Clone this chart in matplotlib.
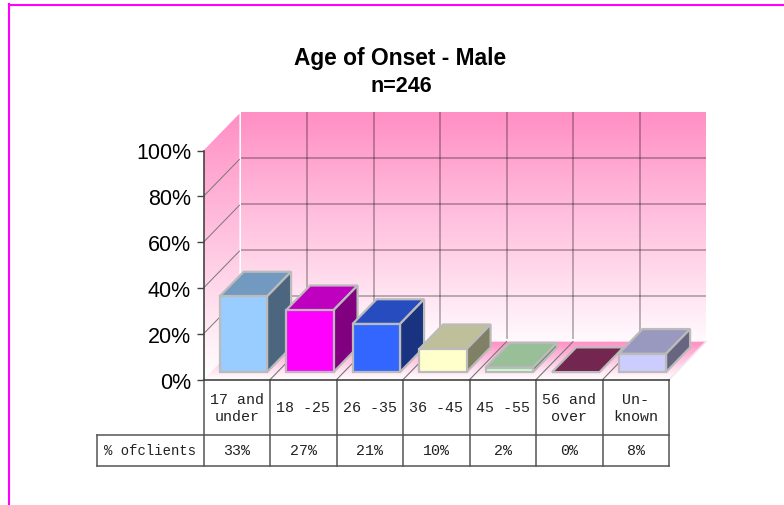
import numpy as np
from matplotlib import pyplot as plt
from matplotlib.colors import LinearSegmentedColormap
from matplotlib.lines import Line2D
from matplotlib.patches import Polygon

categories = ['17 and\nunder', '18 -25', '26 -35', '36 -45', '45 -55', '56 and\nover', 'Un-\nknown']
percent_clients = [33, 27, 21, 10, 2, 0, 8]
table_values = ['33%', '27%', '21%', '10%', '2%', '0%', '8%']
front_colors = ['#99CCFF', '#FF00FF', '#3366FF', '#FFFFCC', '#CCFFCC', '#993366', '#CCCCFF']
top_colors = ['#7299BF', '#BF00BF', '#264CBF', '#BFBF99', '#99BF99', '#732650', '#9999BF']
side_colors = ['#4C6680', '#800080', '#193380', '#808066', '#668066', '#4C1933', '#666680']
yticks = [0, 20, 40, 60, 80, 100]

W, H = 784, 506
# depth of the floor in axis units
DX = 37 / 66.5
DY = 38 / 2.29
PINK = '#FF8FC4'


def proj(x, y, d):
    return (x + d * DX, y + d * DY)


def gradient(ax, poly, y0, y1, top, bottom):
    cmap = LinearSegmentedColormap.from_list('g', [bottom, top])
    xs = [p[0] for p in poly]
    img = ax.imshow(np.linspace(1, 0, 256).reshape(-1, 1), cmap=cmap, vmin=0, vmax=1,
                    extent=[min(xs), max(xs), y0, y1], aspect='auto', zorder=1,
                    interpolation='bilinear')
    img.set_clip_path(Polygon(poly, transform=ax.transData))
    # the walls stick out above and right of the axes box
    img.set_clip_box(ax.figure.bbox)


def main():
    plt.rcParams['font.family'] = ['Liberation Sans', 'DejaVu Sans']
    fig = plt.figure(figsize=(W / 100, H / 100), dpi=100)
    ax = fig.add_axes([203.5 / W, 1 - 380.7 / H, 465.5 / W, 229.2 / H])
    n = len(categories)

    # walls and floor
    back = [proj(0, 0, 1), proj(n, 0, 1), proj(n, 100, 1), proj(0, 100, 1)]
    left = [proj(0, 0, 0), proj(0, 0, .97), proj(0, 100, .97), proj(0, 100, 0)]
    floor = [proj(0, 0, 0), proj(n, 0, 0), proj(n, 0, 1), proj(0, 0, 1)]
    gradient(ax, back, 0 + DY, 100 + DY, PINK, '#FFFAFD')
    gradient(ax, left, 0, 100 + DY, PINK, '#FFFFFF')
    gradient(ax, floor, 0, DY, PINK, '#FFFFFF')
    ax.plot(*zip(proj(n, 0, 0), proj(n, 0, 1)), color='#F5E6EE', lw=1.2, zorder=1.5, clip_on=False)

    # grid
    grid = dict(color='#000000', alpha=.27, lw=1.4, zorder=2, clip_on=False, solid_capstyle='butt')
    for v in yticks[1:-1]:
        ax.plot(*zip(proj(0, v, 1), proj(n, v, 1)), **grid)
        ax.plot(*zip(proj(0, v, 0), proj(0, v, .97)), color='#777777', lw=.7, zorder=2, clip_on=False)
    for i in range(1, n):
        ax.plot(*zip(proj(i, 1, 1), proj(i, 100, 1)), **grid)
        ax.plot(*zip(proj(i, 0, 0), proj(i, 0, 1)), color='#777777', lw=.8, zorder=2, clip_on=False)

    # bars
    edge = dict(ec='#BBBBBB', lw=1.6, joinstyle='miter', clip_on=False)
    bar_w = .714
    d0, d1 = .2, .85
    for i, val in enumerate(percent_clients):
        x0 = i + .13
        x1 = x0 + bar_w
        z = 3 + i * .1
        ax.add_patch(Polygon([proj(x0, val, d0), proj(x1, val, d0), proj(x1, val, d1), proj(x0, val, d1)],
                             fc=top_colors[i], zorder=z, **edge))
        if val > 0:
            ax.add_patch(Polygon([proj(x1, 0, d0), proj(x1, 0, d1), proj(x1, val, d1), proj(x1, val, d0)],
                                 fc=side_colors[i], zorder=z, **edge))
            ax.add_patch(Polygon([proj(x0, 0, d0), proj(x1, 0, d0), proj(x1, val, d0), proj(x0, val, d0)],
                                 fc=front_colors[i], zorder=z, **edge))

    ax.set_xlim(0, n)
    ax.set_ylim(0, 100)
    ax.patch.set_visible(False)
    for s in ['top', 'right']:
        ax.spines[s].set_visible(False)
    for s in ['left', 'bottom']:
        ax.spines[s].set_color('#444444')
        ax.spines[s].set_linewidth(1.2)
        ax.spines[s].set_zorder(6)
    ax.set_xticks([])
    ax.set_yticks(yticks)
    ax.set_yticklabels([f'{v}%' for v in yticks], fontsize=15.5)
    ax.tick_params(axis='y', length=5, width=1, color='#444444', pad=4)

    # data table below the axis
    row1, row2 = -24.1, -37.6
    label_x = -(203.5 - 97) / 66.5
    tbl = dict(color='#555555', lw=1.1, clip_on=False, zorder=6, solid_capstyle='projecting')
    for i in range(n + 1):
        ax.plot([i, i], [0, row2], **tbl)
    ax.plot([label_x, n], [row1, row1], **tbl)
    ax.plot([label_x, n], [row2, row2], **tbl)
    ax.plot([label_x, label_x], [row1, row2], **tbl)
    mono = dict(family='Liberation Mono', fontsize=10.8, ha='center', va='center', color='#222222',
                linespacing=1.3)
    for i, lab in enumerate(categories):
        ax.text(i + .5, row1 / 2, lab, **mono)
        ax.text(i + .5, (row1 + row2) / 2, table_values[i], **mono)
    ax.text((label_x + 0) / 2, (row1 + row2) / 2, '% ofclients', **{**mono, 'fontsize': 10})

    fig.text(400 / W, 1 - 58 / H, 'Age of Onset - Male', fontsize=16.4, fontweight='bold', ha='center', va='center')
    fig.text(401 / W, 1 - 87 / H, 'n=246', fontsize=15.5, fontweight='bold', ha='center', va='center')

    # page border
    fig.add_artist(Line2D([9 / W, 1], [1 - 6 / H, 1 - 6 / H], color='#FF00FF', lw=1.5))
    fig.add_artist(Line2D([9 / W, 9 / W], [1 - 5 / H, 0], color='#FF00FF', lw=1.5))

    fig.savefig('out.png', dpi=100)


if __name__ == '__main__':
    main()
